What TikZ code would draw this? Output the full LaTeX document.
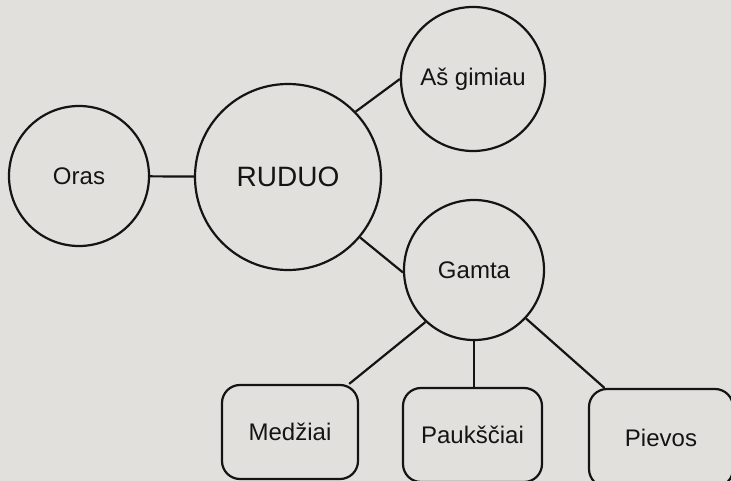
\documentclass[tikz,border=0pt]{standalone}
\usepackage{fontspec}
\setmainfont{Liberation Sans}
\definecolor{paper}{RGB}{225,224,221}
\definecolor{ink}{RGB}{20,20,20}
\tikzset{
bubble/.style={draw=ink, circle, line width=2.2pt, inner sep=0pt, text=ink,
  font=\fontsize{24}{28}\selectfont},
leaf/.style={draw=ink, rectangle, rounded corners=18pt, line width=2.2pt, inner sep=0pt,
  text=ink, font=\fontsize{24}{28}\selectfont},
link/.style={draw=ink, line width=2.2pt}
}

\begin{document}
\begin{tikzpicture}[x=1pt,y=-1pt]
\useasboundingbox (0,0) rectangle (731,481);
\fill[paper] (0,0) rectangle (731,481);
\clip (0,0) rectangle (731,481);
% circles
\node[bubble, minimum size=140pt] (oras) at (79,176) {Oras};
\node[bubble, minimum size=186pt, font=\fontsize{28}{32}\selectfont] (ruduo) at (288,177) {RUDUO};
\node[bubble, minimum size=144pt] (asgim) at (473,79) {Aš gimiau};
\node[bubble, minimum size=140pt] (gamta) at (474,270) {Gamta};
% boxes
\node[leaf, minimum width=136pt, minimum height=94pt] (medziai) at (290,432) {Medžiai};
\node[leaf, minimum width=139pt, minimum height=94pt] (pauksciai) at (472.5,435) {Paukščiai};
\node[leaf, minimum width=144pt, minimum height=98pt] (pievos) at (661,438) {Pievos};
% links
\draw[link] (oras) -- (ruduo);
\draw[link] (ruduo.44) -- (asgim.180);
\draw[link] (ruduo.-40) -- (gamta.182);
\draw[link] (gamta.227) -- (medziai);
\draw[link] (gamta.south) -- (gamta.south |- pauksciai.north);
\draw[link] (gamta.-43) -- (pievos);
\end{tikzpicture}
\end{document}
